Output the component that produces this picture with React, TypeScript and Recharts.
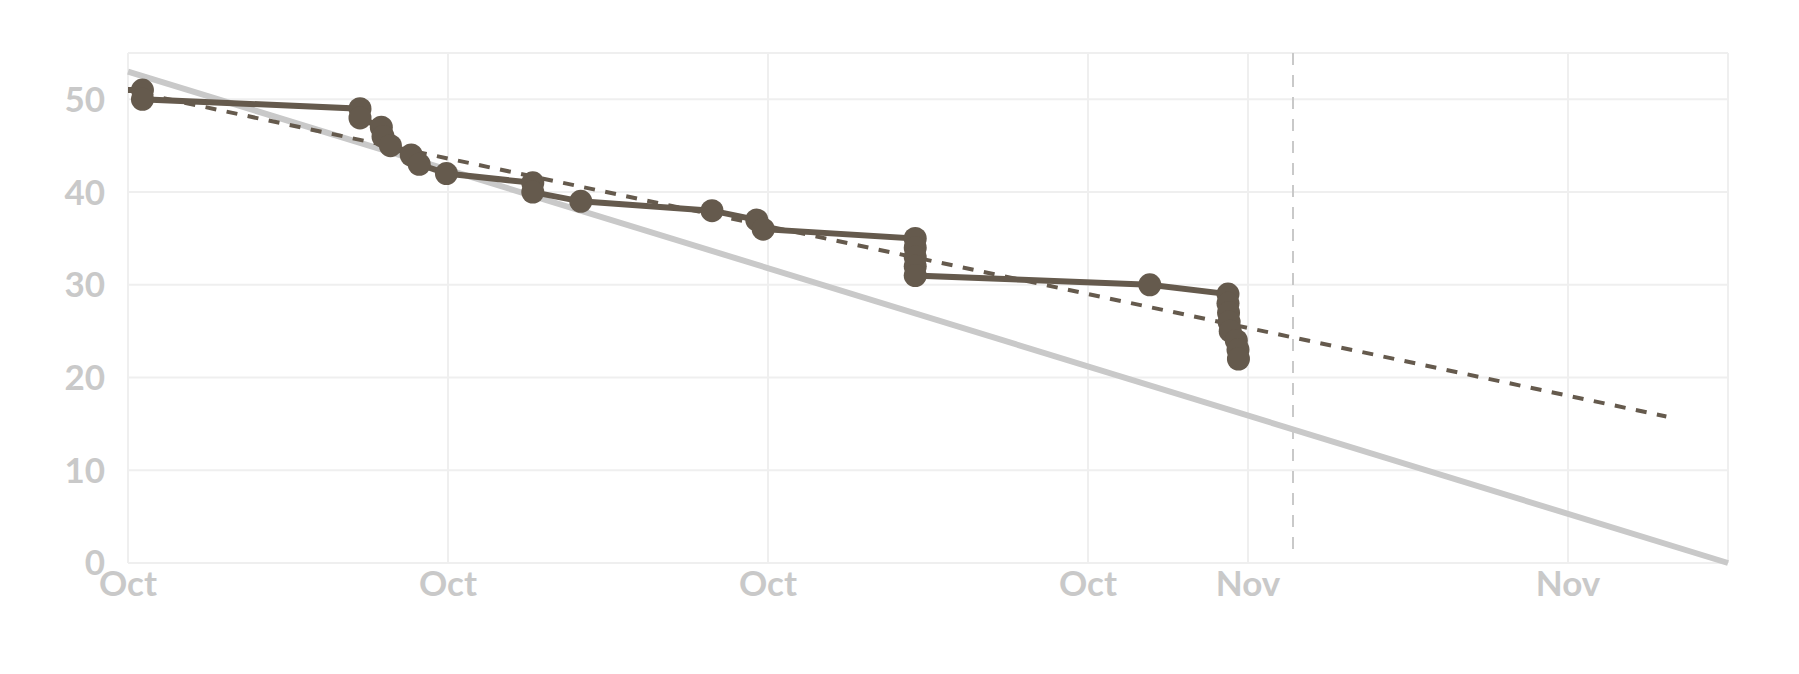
import React from "react";
import {
	ComposedChart,
	Line,
	XAxis,
	YAxis,
	CartesianGrid,
	ReferenceLine,
} from "recharts";

// burndown: remaining items over the sprint
const actualTimes = [
	"2021-10-25T00:00",
	"2021-10-25T02:10",
	"2021-10-25T02:10",
	"2021-10-26T10:48",
	"2021-10-26T10:48",
	"2021-10-26T14:00",
	"2021-10-26T14:15",
	"2021-10-26T15:22",
	"2021-10-26T18:29",
	"2021-10-26T19:41",
	"2021-10-26T23:46",
	"2021-10-27T12:43",
	"2021-10-27T12:43",
	"2021-10-27T19:55",
	"2021-10-28T15:36",
	"2021-10-28T22:19",
	"2021-10-28T23:17",
	"2021-10-29T22:05",
	"2021-10-29T22:05",
	"2021-10-29T22:05",
	"2021-10-29T22:05",
	"2021-10-29T22:05",
	"2021-10-31T09:16",
	"2021-10-31T21:00",
	"2021-10-31T21:00",
	"2021-10-31T21:05",
	"2021-10-31T21:10",
	"2021-10-31T21:20",
	"2021-10-31T22:15",
	"2021-10-31T22:30",
	"2021-10-31T22:34",
];
const actualRemaining = [
	51, 51, 50, 49, 48, 47, 46, 45, 44, 43, 42, 41, 40, 39, 38, 37, 36, 35, 34,
	33, 32, 31, 30, 29, 28, 27, 26, 25, 24, 23, 22,
];

const idealTimes = ["2021-10-25T00:00", "2021-11-04T00:00"];
const idealRemaining = [53, 0];

const trendTimes = ["2021-10-25T02:10", "2021-11-03T14:45"];
const trendRemaining = [50.6, 15.8];

const todayTime = "2021-11-01T06:45";
const todayRange = [55, 1.2];

const xTickTimes = [
	"2021-10-25T00:00",
	"2021-10-27T00:00",
	"2021-10-29T00:00",
	"2021-10-31T00:00",
	"2021-11-01T00:00",
	"2021-11-03T00:00",
];
const yTicks = [0, 10, 20, 30, 40, 50];
const monthNames = ["Jan", "Feb", "Mar", "Apr", "May", "Jun", "Jul", "Aug", "Sep", "Oct", "Nov", "Dec"];

const toMs = (s: string) => Date.parse(s + ":00Z");

const actualData = actualTimes.map((t, i) => ({
	t: toMs(t),
	v: actualRemaining[i],
	hideDot: i === 0,
}));
const idealData = idealTimes.map((t, i) => ({ t: toMs(t), v: idealRemaining[i] }));
const trendData = trendTimes.map((t, i) => ({ t: toMs(t), v: trendRemaining[i] }));
const xTicks = xTickTimes.map(toMs);
const today = toMs(todayTime);

const brown = "#655a4d";
const lightGray = "#c9c9c9";

const tickStyle = {
	fill: lightGray,
	fontSize: 35,
	fontWeight: 700,
	fontFamily: "Lato",
};

const renderDot = (props: any) => {
	const { cx, cy, index, payload } = props;
	if (payload.hideDot) return <g key={`dot-${index}`} />;
	return <circle key={`dot-${index}`} cx={cx} cy={cy} r={11.5} fill={brown} />;
};

const App = () => {
	return (
		<div style={{ position: "absolute", left: 0, top: 0, background: "#fff" }}>
			<ComposedChart
				width={1799}
				height={674}
				margin={{ top: 53, right: 71, bottom: 0, left: 0 }}
				style={{ fontFamily: "Lato" }}
			>
				<CartesianGrid stroke="#efefef" strokeWidth={2} />
				<XAxis
					dataKey="t"
					type="number"
					domain={[idealData[0].t, idealData[1].t]}
					ticks={xTicks}
					interval={0}
					allowDuplicatedCategory={false}
					tickFormatter={(ms: number) => monthNames[new Date(ms).getUTCMonth()]}
					axisLine={false}
					tickLine={false}
					tickSize={4}
					tickMargin={4}
					height={111}
					tick={tickStyle}
				/>
				<YAxis
					type="number"
					domain={[0, 55]}
					ticks={yTicks}
					axisLine={false}
					tickLine={false}
					tickSize={8}
					tickMargin={15}
					width={128}
					tick={tickStyle}
				/>
				<ReferenceLine
					segment={[
						{ x: today, y: todayRange[0] },
						{ x: today, y: todayRange[1] },
					]}
					stroke={lightGray}
					strokeWidth={2}
					strokeDasharray="12 10"
				/>
				<Line
					data={idealData}
					dataKey="v"
					type="linear"
					stroke={lightGray}
					strokeWidth={6}
					dot={false}
					activeDot={false}
					isAnimationActive={false}
				/>
				<Line
					data={trendData}
					dataKey="v"
					type="linear"
					stroke={brown}
					strokeWidth={4}
					strokeDasharray="11 10.5"
					dot={false}
					activeDot={false}
					isAnimationActive={false}
				/>
				<Line
					data={actualData}
					dataKey="v"
					type="linear"
					stroke={brown}
					strokeWidth={6}
					dot={renderDot}
					activeDot={false}
					isAnimationActive={false}
				/>
			</ComposedChart>
		</div>
	);
};

export default App;
